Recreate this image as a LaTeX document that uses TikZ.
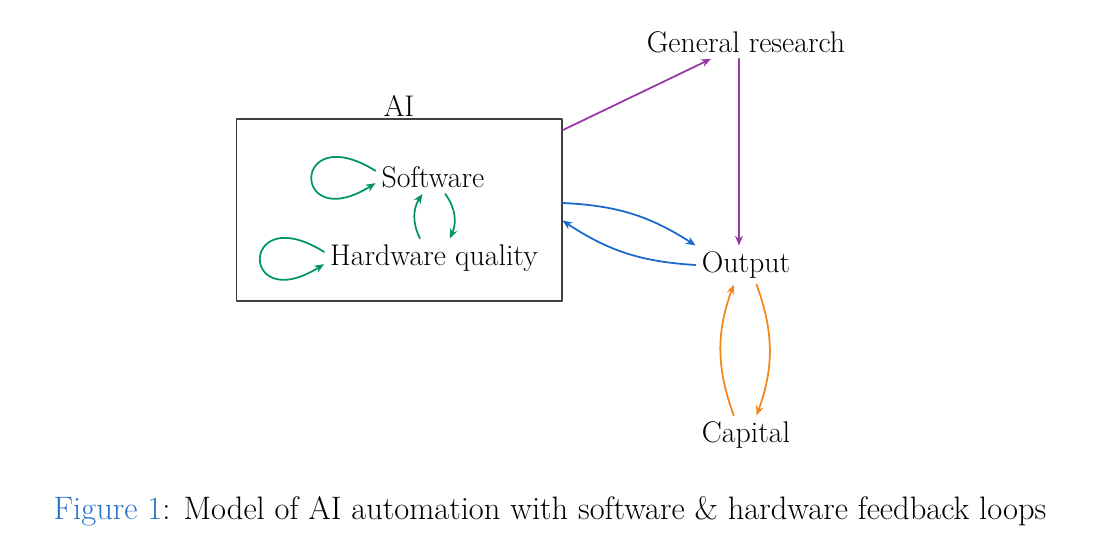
\documentclass[tikz,border=0pt]{standalone}
\usepackage{xcolor}
\usetikzlibrary{arrows.meta}
\definecolor{loopgreen}{RGB}{0,150,95}
\definecolor{respurple}{RGB}{150,55,165}
\definecolor{outblue}{RGB}{25,105,205}
\definecolor{caporange}{RGB}{245,135,25}
\definecolor{capblue}{RGB}{40,115,200}
\begin{document}
\begin{tikzpicture}[x=0.02cm,y=-0.02cm,>={Stealth[length=5.5pt,width=4.5pt]},line cap=round,line join=round]
        \tikzset{every node/.style={font=\fontsize{17}{20}\selectfont}}
        \tikzset{link/.style={->,line width=1pt}}
        \useasboundingbox (0,0) rectangle (1119,551);
        % nodes
        \node[draw=black!75,line width=0.6pt,minimum width=6.52cm,minimum height=3.64cm] (ai) at (399,210) {};
        \node[anchor=south,inner sep=1pt] (ailabel) at (ai.north) {AI};
        \node (sw) at (433,177) {Software};
        \node (hw) at (434,258) {Hardware quality};
        \node (gen) at (746,42) {General research};
        \node (out) at (746,265) {Output};
        \node (cap) at (746,435) {Capital};
        \node[font=\fontsize{18.5}{22}\selectfont] (fig) at (550,511) {{\color{capblue}Figure 1}: Model of AI automation with software \& hardware feedback loops};
        % loops inside the AI box
        \draw[link,loopgreen] ([yshift=3.5pt]sw.west) .. controls +(148:2cm) and +(-148:2cm) .. ([yshift=-3.5pt]sw.west);
        \draw[link,loopgreen] ([yshift=3.5pt]hw.west) .. controls +(148:2cm) and +(-148:2cm) .. ([yshift=-3.5pt]hw.west);
        \draw[link,loopgreen] ([xshift=-8pt]hw.north) to[bend left=30] ([xshift=-6pt]sw.south);
        \draw[link,loopgreen] ([xshift=7pt]sw.south) to[bend left=30] ([xshift=9pt]hw.north);
        % research
        \draw[link,respurple] (ai.26) -- (gen);
        \draw[link,respurple] ([xshift=-4pt]gen.south) -- ([xshift=-4pt]out.north);
        % output
        \draw[link,outblue] ([yshift=4pt]ai.east) to[bend left=15] (out.north west);
        \draw[link,outblue] (out.west) to[bend left=15] ([yshift=-6pt]ai.east);
        % capital
        \draw[link,caporange] ([xshift=-7pt]cap.north) to[bend left=20] ([xshift=-7pt]out.south);
        \draw[link,caporange] ([xshift=6pt]out.south) to[bend left=20] ([xshift=6pt]cap.north);
\end{tikzpicture}
\end{document}
